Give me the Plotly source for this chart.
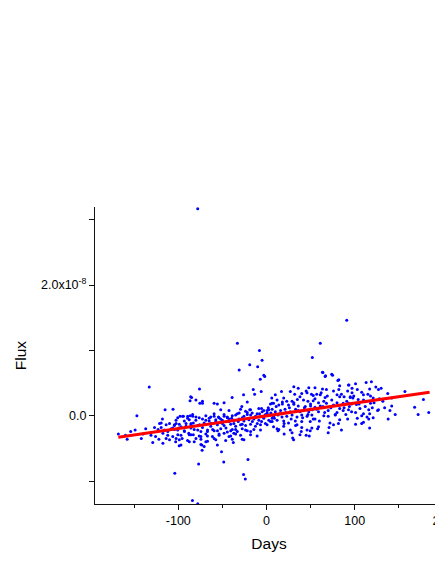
import plotly.graph_objects as go

# Observed points: days and flux (flux in units of 1e-8)
days_main = [
    -78, -133, -104, -84, -78, -77, -86, -80, -147, -115, -106, -158, -154, -149, -129, -99, -168,
    91, -33, -8, 61, -5, -31, -10, -19, -3, -2, -7, 52, 63.5, 66.5, 74, 81, -26, -15, -6, -39,
    -21, -26, -24, -48.5, -51, -73,
    184, 178, 172, 168, 157, 146, 142, 140, 137.5, 138, 130, 127, 127, 119, 113, 101, 93.5, 117,
    117, 103, 97, 110, 115, 121, 95, 98, 104, 110, 113, 142, 118, 102, 93, 96.5, 106, 120, 116,
    126, 96.5, 101, 110, 108, 117, 103, 116, 121, 110, 101, 108,
    64, 67, 75, 82, 83, 93, 97, 31, 36, 48, 55, 63.5, 68, 82, 10, 17, 27, 32, 40, 46, 51, 53, 57,
    61, 66.5, 80, 83, 88, 95, 6, 12, 19.5, 23, 29, 35, 42, 47, 53, 59, 65, 68, 74, 76, 87, 91,
    4.5, 8, 14, 18, 25, 31, 36, 44, 50, 55, 61, 83, 2.6, 6.4, 10, 16, 21, 27, 33, 38, 48, 52, 59,
    70, 80, 87, 93, 4.5, 8, 13, 17.6, 23, 29, 34.6, 40, 46, 51.5, 65, 70, 78, 2.6, 6.4, 12, 19.5,
    25, 32.7, 40, 49.6, 55, 72, 76, 81.6, 92, 8, 14, 19.5, 27, 34.6, 40, 46, 51.5, 59, 13, 29,
    39.4, 49.6, 70, 29.7, 38, 48.5, 30.8,
    -76, -13.5, -85, -72.6, -75.6, -59.4, -28, -19, -5.6, 0.7, 6.4, -86.5, -80, -68.8, -65, -59.4,
    -54.5, -52, -48, -44.4, -39.5, -35, -31, -25.6, -21.8, -18, -12.4, -7.9, -3, 2.6, 6.4, -83,
    -76, -70.7, -63, -57.5, -50, -42.5, -37, -32, -27.5, -16, -10.5, -5.6, 0.7, 4.5, -85.7, -78,
    -72.6, -67, -61, -55.6, -46, -40.6, -35, -23.7, -18, -85.7, -80, -74.4, -67, -59.4, -53.8,
    -42.5, -37, -27.5, -82, -73.3, -68.8, -37.6,
    -125.8, -123, -121.3, -119.4, -117.5, -113.8, -112, -110, -106.3, -104.4, -102.5, -100.6,
    -98, -97, -95.7, -94.2, -93, -91.2, -89.4, -88.2, -87.5, -86.7, -83.7, -83, -117.5, -113.8,
    -110, -106.3, -102.5, -119.4, -115.7, -104.4, -99.5, -85.6,
]
flux_main = [
    3.17, 0.44, -0.88, -1.30, -1.35, -0.74, 0.29, 0.24, 0.00, 0.09, 0.10, -0.36, -0.24, -0.22, -0.41, -0.46, -0.28,
    1.46, 1.11, 1.00, 1.11, 0.85, 0.70, 0.75, 0.78, 0.62, 0.60, 0.56, 0.89, 0.665, 0.60, 0.635, 0.54, 0.32, 0.40, 0.37, 0.28,
    -0.67, -0.90, -0.97, -0.71, -0.55, -0.53,
    0.05, 0.25, 0.02, 0.13, 0.37, 0.02, 0.15, 0.08, 0.34, -0.05, 0.42, 0.40, 0.09, 0.52, 0.51, 0.49, 0.47, -0.19,
    0.41, 0.40, 0.35, 0.32, 0.33, 0.27, 0.28, 0.27, 0.25, 0.24, 0.22, 0.27, 0.19, 0.17, 0.19, 0.18, 0.11, 0.12, 0.09,
    0.08, 0.06, 0.05, 0.03, 0.00, 0.03, -0.04, -0.05, -0.03, -0.10, -0.13, -0.12,
    0.66, 0.61, 0.62, 0.55, 0.46, 0.47, 0.42, 0.445, 0.42, 0.43, 0.43, 0.41, 0.40, 0.40, 0.32, 0.37, 0.37, 0.33, 0.34, 0.35, 0.33, 0.31, 0.33,
    0.32, 0.28, 0.32, 0.29, 0.29, 0.29, 0.27, 0.24, 0.27, 0.22, 0.22, 0.25, 0.24, 0.22, 0.23, 0.20, 0.22, 0.19, 0.24, 0.165, 0.19, 0.22,
    0.18, 0.19, 0.165, 0.18, 0.165, 0.175, 0.15, 0.14, 0.15, 0.13, 0.15, 0.11, 0.09, 0.10, 0.06, 0.08, 0.10, 0.06, 0.10, 0.06, 0.06, 0.09, 0.06,
    0.08, 0.05, 0.08, 0.09, 0.01, -0.01, 0.01, -0.02, -0.01, 0.01, -0.02, 0.01, -0.01, 0.01, 0.00, -0.01, 0.01, -0.07, -0.09, -0.07, -0.08,
    -0.11, -0.08, -0.09, -0.09, -0.05, -0.11, -0.14, -0.12, -0.05, -0.17, -0.21, -0.16, -0.22, -0.14, -0.18, -0.22, -0.19, -0.17, -0.23, -0.26,
    -0.24, -0.23, -0.26, -0.34, -0.29, -0.31, -0.37,
    0.41, 0.33, 0.28, 0.22, 0.19, 0.19, 0.14, 0.09, 0.11, 0.04, 0.19, 0.00, -0.02, -0.07, -0.04, -0.01,
    -0.02, -0.05, -0.01, -0.03, -0.04, 0.01, 0.04, -0.01, 0.05, 0.01, -0.01, 0.03, -0.01, 0.01, -0.04, -0.11,
    -0.14, -0.11, -0.12, -0.09, -0.12, -0.09, -0.12, -0.09, -0.13, -0.09, -0.12, -0.09, -0.14, -0.09, -0.19, -0.22,
    -0.18, -0.24, -0.21, -0.23, -0.19, -0.23, -0.21, -0.22, -0.24, -0.29, -0.35, -0.32, -0.31, -0.35, -0.28,
    -0.32, -0.27, -0.36, -0.40, -0.45, -0.40, -0.41,
    -0.32, -0.21, -0.12, -0.11, -0.27, -0.14, -0.24, -0.12, -0.19, -0.14, -0.12, -0.29,
    -0.01, -0.17, -0.35, -0.01, -0.24, -0.12, -0.01, -0.27, -0.40, 0.23, -0.01, -0.29, -0.42, -0.35,
    -0.37, -0.32, -0.35, -0.18, -0.22, -0.21, -0.19, -0.12,
]

days_band_a = [
    -100.7, -95.1, -89.5, -83.8, -76.3, -68.8, -63.2, -59.4, -53.8, -48.1, -44.4, -38.8, -33.1, -27.5, -21.8, -16.2, -10.6, -4.9, 0.7,
    -102.6, -93.2, -87.6, -80.1, -72.6, -65, -57.5, -50, -42.5, -36.9, -31.2, -25.6, -20, -14.3, -8.7, -3.1, -1.2,
    -104.5, -98.9, -91.3, -85.7, -78.2, -70.7, -63.2, -55.7, -48.1, -40.6, -35, -29.4, -23.7, -18.1, -12.5, -6.8, -1.2,
    -100.7, -93.2, -82, -74.4, -66.9, -59.4, -51.9, -44.4, -38.8, -33.1, -27.5, -21.8, -14.3, -6.8,
    -97, -87.6, -76.3, -68.8, -61.3, -53.8, -48.1, -40.6, -35, -29.4, -18.1, -10.6,
    -98.9, -89.5, -74.4, -66.9, -57.5, -46.3, -38.8, -25.6,
    -97, -74.4, -70.7, -55.7,
    -51.9, -42.5, -29.4, -23.7, -18.1, -8.7, -3.1,
    -72.6, -55.7, -48.1, -21.8,
]
flux_band_a = [
    -0.03, -0.01, -0.04, 0.02, -0.03, 0.00, -0.02, 0.03, -0.03, 0.02, -0.02, 0.00, 0.03, -0.03, 0.02, 0.04, 0.03, 0.06, 0.08,
    -0.07, -0.08, -0.06, -0.07, -0.05, -0.08, -0.06, -0.07, -0.05, -0.07, -0.05, -0.08, -0.06, -0.05, -0.07, -0.04, 0.02,
    -0.15, -0.13, -0.16, -0.14, -0.15, -0.13, -0.16, -0.14, -0.15, -0.13, -0.16, -0.14, -0.15, -0.13, -0.16, -0.14, -0.12,
    -0.22, -0.23, -0.21, -0.24, -0.22, -0.23, -0.20, -0.25, -0.21, -0.24, -0.20, -0.23, -0.21, -0.22,
    -0.30, -0.29, -0.31, -0.28, -0.32, -0.30, -0.27, -0.31, -0.28, -0.30, -0.29, -0.31,
    -0.37, -0.38, -0.36, -0.39, -0.37, -0.38, -0.36, -0.37,
    -0.45, -0.44, -0.47, -0.45,
    0.09, 0.08, 0.10, 0.07, 0.09, 0.11, 0.08,
    0.19, 0.18, 0.20, 0.21,
]

days_band_b = [
    2, 5, 9, 11, 15, 18, 20, 22, 26, 28, 31, 33, 36, 38, 41, 43, 45, 47, 50, 53, 55, 57, 60, 62, 64, 66,
    69, 71, 73, 76, 78, 80, 83, 85, 88, 90, 92, 94, 99, 105, 108, 112, 114, 118, 122, 124, 128, 132, 134,
    45, 58, 85, 20, 12,
]
flux_band_b = [
    0.12, 0.04, -0.04, 0.14, 0.03, 0.21, -0.12, 0.05, 0.12, -0.05, 0.20, -0.15, 0.08, 0.29, -0.03, 0.12, 0.38, 0.02, 0.18, -0.05, 0.26, 0.10, -0.08, 0.35, 0.14, 0.05,
    0.30, -0.18, 0.12, 0.38, 0.02, 0.20, -0.06, 0.33, 0.12, 0.02, 0.38, 0.14, 0.30, 0.18, 0.36, 0.14, -0.02, 0.30, 0.20, 0.44, 0.26, 0.22, 0.12,
    -0.30, -0.20, -0.22, -0.28, -0.20,
]

# Extra points on the far left (before -100 days)
days_band_c = [-140, -137, -131, -127, -122, -118, -112, -108, -103, -142, -160]
flux_band_c = [-0.28, -0.20, -0.30, -0.18, -0.36, -0.05, -0.30, -0.20, -0.40, -0.35, -0.30]

# Linear fit line endpoints
fit_days = [-168, 185]
fit_flux_1e8 = [-0.33, 0.36]

x_ticks = [-100, 0, 100, 200]
x_ticktext = ["-100", "0", "100", "200"]
y_ticks = [0, 2e-8]
y_ticktext = ["0.0", "2.0x10<sup>-8</sup>"]

SCALE = 1e-8
days = days_main + days_band_a + days_band_b + days_band_c
flux = [v * SCALE for v in (flux_main + flux_band_a + flux_band_b + flux_band_c)]
fit_flux = [v * SCALE for v in fit_flux_1e8]

fig = go.Figure()
fig.add_trace(go.Scatter(
    x=days, y=flux, mode="markers",
    marker=dict(color="#0000FF", size=3, line=dict(width=0)),
    showlegend=False, hoverinfo="skip",
))
fig.add_trace(go.Scatter(
    x=fit_days, y=fit_flux, mode="lines",
    line=dict(color="#FF0000", width=3),
    showlegend=False, hoverinfo="skip",
))

font_family = "Liberation Sans, Arial, sans-serif"
fig.update_layout(
    width=435, height=565,
    margin=dict(l=87, r=0, t=199, b=69),
    paper_bgcolor="white", plot_bgcolor="white",
    font=dict(family=font_family, color="#000000", size=12),
    xaxis=dict(
        range=[-194.5, 200.2], showgrid=False, zeroline=False, automargin=False,
        showline=True, linecolor="#111111", linewidth=1.3,
        ticks="outside", ticklen=5, tickwidth=1.3, tickcolor="#111111",
        tickmode="array", tickvals=x_ticks, ticktext=x_ticktext,
        tickfont=dict(size=12.5), ticklabeloverflow="allow",
        minor=dict(ticks="outside", ticklen=3, tickwidth=1.3, tickcolor="#111111",
                   tickmode="linear", tick0=-150, dtick=100, showgrid=False),
        title=dict(text="Days", font=dict(size=15.5), standoff=10),
    ),
    yaxis=dict(
        range=[-1.352e-8, 3.196e-8], showgrid=False, zeroline=False, automargin=False,
        showline=True, linecolor="#111111", linewidth=1.3,
        ticks="outside", ticklen=5, tickwidth=1.3, tickcolor="#111111",
        tickmode="array", tickvals=y_ticks, ticktext=y_ticktext,
        tickfont=dict(size=12.5),
        minor=dict(ticks="outside", ticklen=5, tickwidth=1.3, tickcolor="#111111",
                   tickmode="linear", tick0=-1e-8, dtick=2e-8, showgrid=False),
        title=dict(text="Flux", font=dict(size=15.5), standoff=10),
    ),
)

fig.write_html("out.html")
